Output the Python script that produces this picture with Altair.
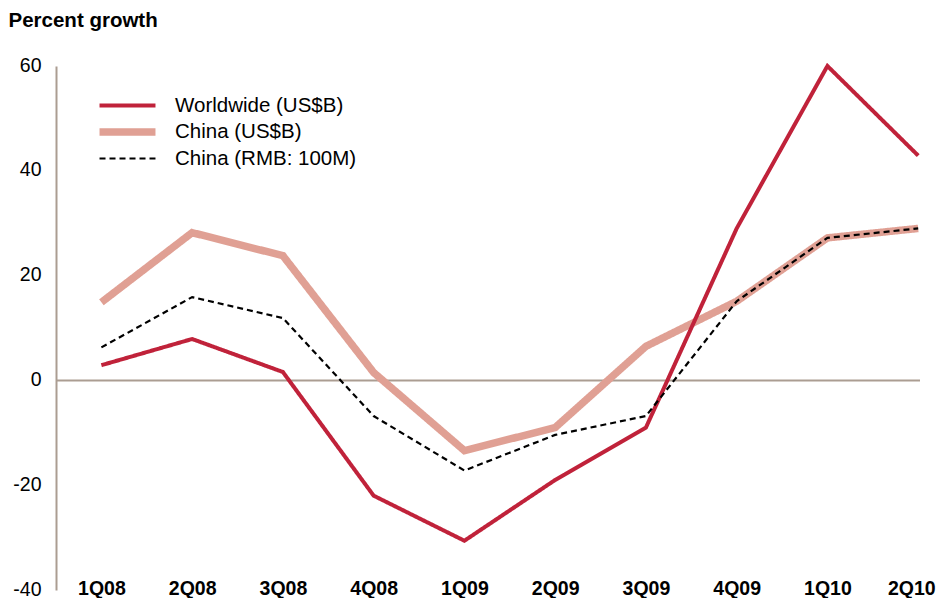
import json
import altair as alt
import pandas as pd

quarters = ["1Q08", "2Q08", "3Q08", "4Q08", "1Q09", "2Q09", "3Q09", "4Q09", "1Q10", "2Q10"]
series_names = ["Worldwide (US$B)", "China (US$B)", "China (RMB: 100M)"]
worldwide = [2.9, 7.9, 1.6, -22.0, -30.6, -19.0, -9.0, 29.0, 60.0, 42.9]
china_usd = [14.9, 28.2, 23.8, 1.5, -13.4, -9.0, 6.5, 15.1, 27.2, 29.0]
china_rmb = [6.3, 15.9, 11.9, -6.8, -17.2, -10.4, -6.8, 15.1, 27.2, 29.0]
y_ticks = [-40, -20, 0, 20, 40, 60]

rows = []
for name, vals in [(series_names[1], china_usd), (series_names[0], worldwide), (series_names[2], china_rmb)]:
    for i, (q, v) in enumerate(zip(quarters, vals)):
        rows.append({"series": name, "idx": i, "quarter": q, "value": v})
df = pd.DataFrame(rows)

FONT = "Liberation Sans"
axis_color = "#ab9d92"

x_enc = alt.X(
    "idx:Q",
    scale=alt.Scale(domain=[-0.5, 9.02], nice=False, zero=False),
    axis=alt.Axis(
        values=list(range(len(quarters))),
        labelExpr=json.dumps(quarters) + "[datum.value]",
        title=None, domain=False, ticks=False, grid=False,
        labelFont=FONT, labelFontWeight="bold", labelFontSize=19.5,
        labelColor="#000000", labelBaseline="middle", labelPadding=-2,
        labelFlush=3, labelFlushOffset=17,
    ),
)
y_enc = alt.Y(
    "value:Q",
    scale=alt.Scale(domain=[-40, 60], nice=False),
    axis=alt.Axis(
        values=y_ticks, title="Percent growth", titleAngle=0, titleX=-48, titleY=-39.5,
        titleAlign="left", titleBaseline="alphabetic", titleFont=FONT, titleFontSize=20.5,
        titleFontWeight="bold", titleColor="#000000",
        domain=True, domainColor=axis_color, domainWidth=2, ticks=False, grid=False,
        labelFont=FONT, labelFontSize=19.5, labelColor="#000000", labelPadding=15,
        labelBaseline="middle", labelOffset=-1, labelExpr="'' + datum.value",
    ),
)

zero = alt.Chart(pd.DataFrame({"z": [0]})).mark_rule(color=axis_color, strokeWidth=2).encode(
    y=alt.Y("z:Q", scale=alt.Scale(domain=[-40, 60], nice=False))
)

legend_kw = dict(
    title=None, orient="none", legendX=58, legendY=28, padding=0,
    symbolType="M-3,0H3", symbolSize=348, labelFont=FONT, labelFontSize=20.5,
    labelColor="#000000", rowPadding=0.5, labelOffset=34, labelLimit=0,
)

lines = alt.Chart(df).mark_line(strokeJoin="miter", strokeCap="butt").encode(
    x=x_enc,
    y=y_enc,
    color=alt.Color(
        "series:N",
        scale=alt.Scale(domain=series_names, range=["#c0223a", "#e0a094", "#000000"]),
        legend=alt.Legend(**legend_kw),
    ),
    strokeWidth=alt.StrokeWidth(
        "series:N", scale=alt.Scale(type="ordinal", domain=series_names, range=[4, 7.5, 2.2]),
        legend=alt.Legend(**legend_kw),
    ),
    strokeDash=alt.StrokeDash(
        "series:N", scale=alt.Scale(type="ordinal", domain=series_names, range=[[1, 0], [1, 0], [6, 4]]),
        legend=alt.Legend(**legend_kw),
    ),
    detail="series:N",
    order="idx:Q",
)

layers = []
for name in [series_names[1], series_names[0], series_names[2]]:
    layers.append(lines.transform_filter(alt.datum.series == name))

chart = alt.layer(zero, *layers).properties(
    width=864, height=524,
    padding={"left": 48, "top": 58, "right": 17, "bottom": 8},
    autosize=alt.AutoSizeParams(type="none"),
    background="#ffffff",
).configure_view(stroke="transparent", strokeWidth=0)

chart.save("out.html", embed_options={"renderer": "svg", "actions": False})
